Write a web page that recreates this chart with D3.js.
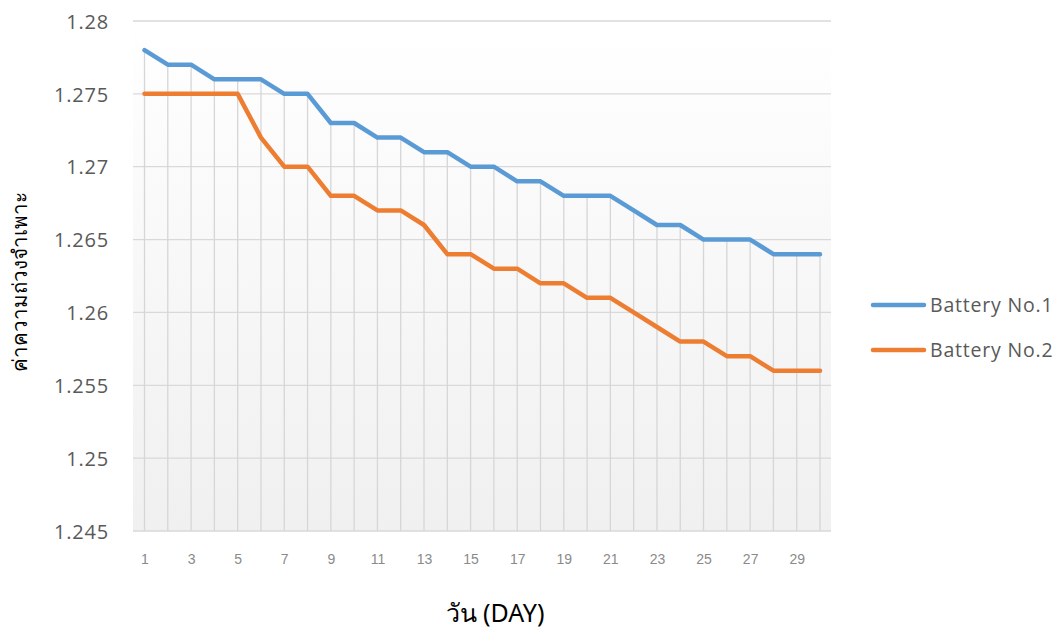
<!DOCTYPE html>
<html>
<head>
<meta charset="utf-8">
<script src="https://cdn.jsdelivr.net/npm/d3@7"></script>
<style>
html,body{margin:0;padding:0;background:#fff;}
svg{display:block;}
</style>
</head>
<body>
<svg id="chart" width="1061" height="634"></svg>
<script>
const days = d3.range(1, 31);
const battery1 = [1.278,1.277,1.277,1.276,1.276,1.276,1.275,1.275,1.273,1.273,1.272,1.272,1.271,1.271,1.270,1.270,1.269,1.269,1.268,1.268,1.268,1.267,1.266,1.266,1.265,1.265,1.265,1.264,1.264,1.264];
const battery2 = [1.275,1.275,1.275,1.275,1.275,1.272,1.270,1.270,1.268,1.268,1.267,1.267,1.266,1.264,1.264,1.263,1.263,1.262,1.262,1.261,1.261,1.260,1.259,1.258,1.258,1.257,1.257,1.256,1.256,1.256];
const seriesNames = ["Battery No.1", "Battery No.2"];
const seriesColors = ["#5B9BD5", "#ED7D31"];
const yTicks = [1.245,1.25,1.255,1.26,1.265,1.27,1.275,1.28];
const xTickLabels = d3.range(1, 30, 2);
const xTitle = "วัน (DAY)";
const yTitle = "ค่าความถ่วงจำเพาะ";

const svg = d3.select("#chart");
const plot = {left: 133, right: 831, top: 21, bottom: 531};
const x = d3.scaleLinear().domain([1, 30]).range([144.5, 820]);
const y = d3.scaleLinear().domain([1.245, 1.28]).range([plot.bottom, plot.top]);

const defs = svg.append("defs");
const grad = defs.append("linearGradient").attr("id","bg").attr("x1",0).attr("y1",0).attr("x2",0).attr("y2",1);
grad.append("stop").attr("offset","0%").attr("stop-color","#ffffff");
grad.append("stop").attr("offset","100%").attr("stop-color","#f0f0f0");

svg.append("rect").attr("x", plot.left).attr("y", plot.top)
  .attr("width", plot.right - plot.left).attr("height", plot.bottom - plot.top)
  .attr("fill", "url(#bg)");

// horizontal gridlines
svg.append("g").selectAll("line").data(yTicks).join("line")
  .attr("x1", plot.left).attr("x2", plot.right)
  .attr("y1", d => y(d)).attr("y2", d => y(d))
  .attr("stroke", "#d9d9d9").attr("stroke-width", 1.3);

// drop lines
svg.append("g").selectAll("line").data(days).join("line")
  .attr("x1", d => x(d)).attr("x2", d => x(d))
  .attr("y1", (d,i) => y(Math.max(battery1[i], battery2[i])))
  .attr("y2", plot.bottom)
  .attr("stroke", "#d6d6d6").attr("stroke-width", 1.3);

// y axis labels
const yAxis = d3.axisLeft(y).tickValues(yTicks).tickSize(0).tickPadding(0)
  .tickFormat(d => d3.format("")(+d.toFixed(3)));
const gy = svg.append("g").attr("transform", "translate(109,0)").call(yAxis);
gy.select(".domain").remove();
gy.selectAll("text").attr("font-family", "'Open Sans', 'Noto Sans', sans-serif")
  .attr("font-size", 20).attr("letter-spacing", "0.8px").attr("fill", "#595959").attr("dy", "0.36em");

// x axis labels
const xAxis = d3.axisBottom(x).tickValues(xTickLabels).tickSize(0).tickPadding(0).tickFormat(d3.format("d"));
const gx = svg.append("g").attr("transform", "translate(0,554)").call(xAxis);
gx.select(".domain").remove();
gx.selectAll("text").attr("font-family", "'Liberation Sans', Arial, sans-serif")
  .attr("font-size", 14).attr("fill", "#8a8a8a").attr("dy", "0.71em");

// lines
const line = d3.line().x((d,i) => x(days[i])).y(d => y(d));
[battery1, battery2].forEach((s, k) => {
  svg.append("path").datum(s).attr("d", line)
    .attr("fill", "none").attr("stroke", seriesColors[k])
    .attr("stroke-width", 4.5).attr("stroke-linejoin", "round").attr("stroke-linecap", "round");
});

// titles
svg.append("text").attr("x", 495).attr("y", 622).attr("text-anchor", "middle")
  .attr("font-family", "'Noto Sans', 'Open Sans', sans-serif").attr("font-size", 25).attr("fill", "#000")
  .text(xTitle);
svg.append("text").attr("transform", "translate(27,282) rotate(-90)").attr("text-anchor", "middle")
  .attr("font-family", "'Noto Sans', sans-serif").attr("font-size", 20.5).attr("fill", "#000")
  .text(yTitle);

// legend
const lg = svg.append("g");
seriesNames.forEach((n, k) => {
  const ly = 305 + k * 45;
  lg.append("line").attr("x1", 873).attr("x2", 924).attr("y1", ly).attr("y2", ly)
    .attr("stroke", seriesColors[k]).attr("stroke-width", 4.5).attr("stroke-linecap", "round");
  lg.append("text").attr("x", 930).attr("y", ly).attr("dy", "0.36em")
    .attr("font-family", "'Open Sans', 'Noto Sans', sans-serif").attr("font-size", 19.5)
    .attr("letter-spacing", "0.8px").attr("fill", "#595959")
    .text(n);
});
</script>
</body>
</html>
